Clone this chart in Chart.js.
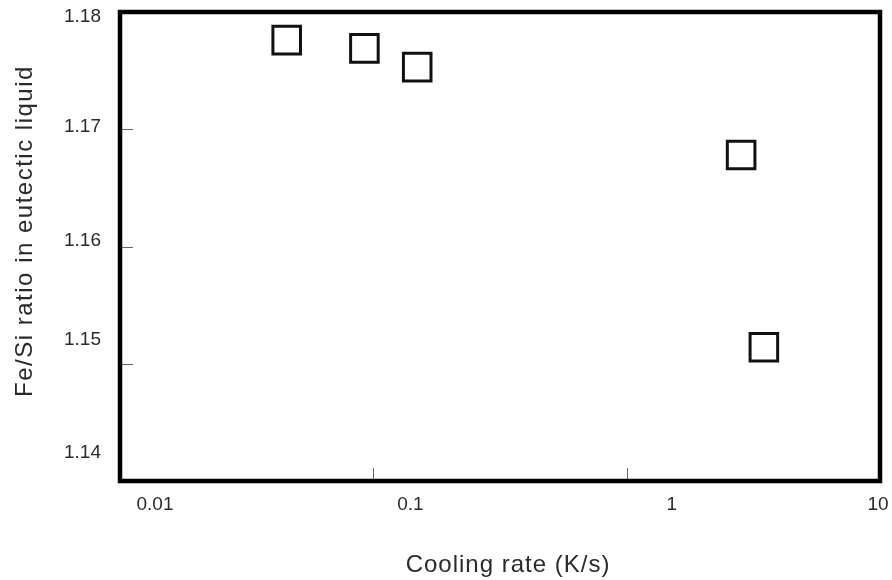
<!DOCTYPE html>
<html>
<head>
<meta charset="utf-8">
<script src="https://cdn.jsdelivr.net/npm/chart.js@4/dist/chart.umd.min.js"></script>
<style>
  html, body { margin: 0; padding: 0; background: #fff; }
  #wrap { width: 892px; height: 580px; position: relative; }
</style>
</head>
<body>
<div id="wrap"><canvas id="chart"></canvas></div>
<script>
// ── Data ──────────────────────────────────────────────────────────────────────

const coolingRates = [0.0455, 0.0922, 0.149, 2.83, 3.48];     // K/s
const feSiRatios   = [1.1776, 1.1769, 1.1753, 1.1678, 1.1514];

const xTickValues = [0.01, 0.1, 1, 10];
const xTickLabels = ['0.01', '0.1', '1', '10'];
const yTickValues = [1.14, 1.15, 1.16, 1.17, 1.18];
const yTickLabels = ['1.14', '1.15', '1.16', '1.17', '1.18'];

const xTitle = 'Cooling rate (K/s)';
const yTitle = 'Fe/Si ratio in eutectic liquid';

// ── Frame, inner ticks, labels ────────────────────────────────────────────────

const TEXT = '#2a2a2a';

const framePlugin = {
  id: 'frame',
  afterDraw(chart, args, opts) {
    const { ctx, chartArea: a, scales } = chart;
    ctx.save();

    // inner tick marks (skip the ones sitting on the frame)
    ctx.strokeStyle = '#666';
    ctx.lineWidth = 1;
    ctx.beginPath();
    xTickValues.slice(1, -1).forEach(v => {
      const x = Math.round(scales.x.getPixelForValue(v)) + 0.5;
      ctx.moveTo(x, a.bottom - 2);
      ctx.lineTo(x, a.bottom - 13);
    });
    yTickValues.slice(1, -1).forEach(v => {
      const y = Math.round(scales.y.getPixelForValue(v)) + 0.5;
      ctx.moveTo(a.left + 2, y);
      ctx.lineTo(a.left + 13, y);
    });
    ctx.stroke();

    // heavy box
    ctx.strokeStyle = '#000';
    ctx.lineWidth = 4.5;
    ctx.lineJoin = 'miter';
    ctx.strokeRect(a.left, a.top, a.right - a.left, a.bottom - a.top);

    // tick labels
    ctx.fillStyle = TEXT;
    ctx.font = '19px "Liberation Sans", Arial, sans-serif';
    ctx.textBaseline = 'middle';
    ctx.textAlign = 'center';
    xTickValues.forEach((v, i) => {
      const x = scales.x.getPixelForValue(v) + opts.xLabelShift[i];
      ctx.fillText(xTickLabels[i], x, a.bottom + 24);
    });
    ctx.textAlign = 'right';
    yTickValues.forEach((v, i) => {
      const y = scales.y.getPixelForValue(v) + opts.yLabelShift[i];
      ctx.fillText(yTickLabels[i], a.left - 19, y);
    });

    // axis titles
    ctx.font = '24px "Liberation Sans", Arial, sans-serif';
    ctx.textAlign = 'center';
    ctx.letterSpacing = '1px';
    ctx.fillText(xTitle, (a.left + a.right) / 2 + 8, 565);

    ctx.translate(25, 231);
    ctx.rotate(-Math.PI / 2);
    ctx.letterSpacing = '1.5px';
    ctx.fillText(yTitle, 0, 0);
    ctx.restore();
  },
};

// ── Chart ─────────────────────────────────────────────────────────────────────

new Chart(document.getElementById('chart'), {
  type: 'scatter',
  data: {
    datasets: [{
      label: 'Fe/Si',
      data: coolingRates.map((x, i) => ({ x, y: feSiRatios[i] })),
      pointStyle: 'rect',
      pointRadius: 19.5,
      pointHoverRadius: 19.5,
      pointBorderWidth: 3,
      borderColor: '#111',
      backgroundColor: 'rgba(255,255,255,0)',
    }],
  },
  options: {
    responsive: true,
    maintainAspectRatio: false,
    animation: false,
    layout: { autoPadding: false, padding: { top: 12, right: 12, left: 0, bottom: 0 } },
    plugins: {
      legend: { display: false },
      tooltip: { enabled: false },
      frame: {
        xLabelShift: [35, 37, 45, -2],
        yLabelShift: [-28.5, -24, -5.5, -2, 4.5],
      },
    },
    scales: {
      x: {
        type: 'logarithmic',
        min: 0.01,
        max: 10,
        grid: { display: false },
        border: { display: false },
        ticks: { display: false },
        afterFit(s) { s.height = 99; },
      },
      y: {
        min: 1.14,
        max: 1.18,
        grid: { display: false },
        border: { display: false },
        ticks: { display: false },
        afterFit(s) { s.width = 120; },
      },
    },
  },
  plugins: [framePlugin],
});
</script>
</body>
</html>
